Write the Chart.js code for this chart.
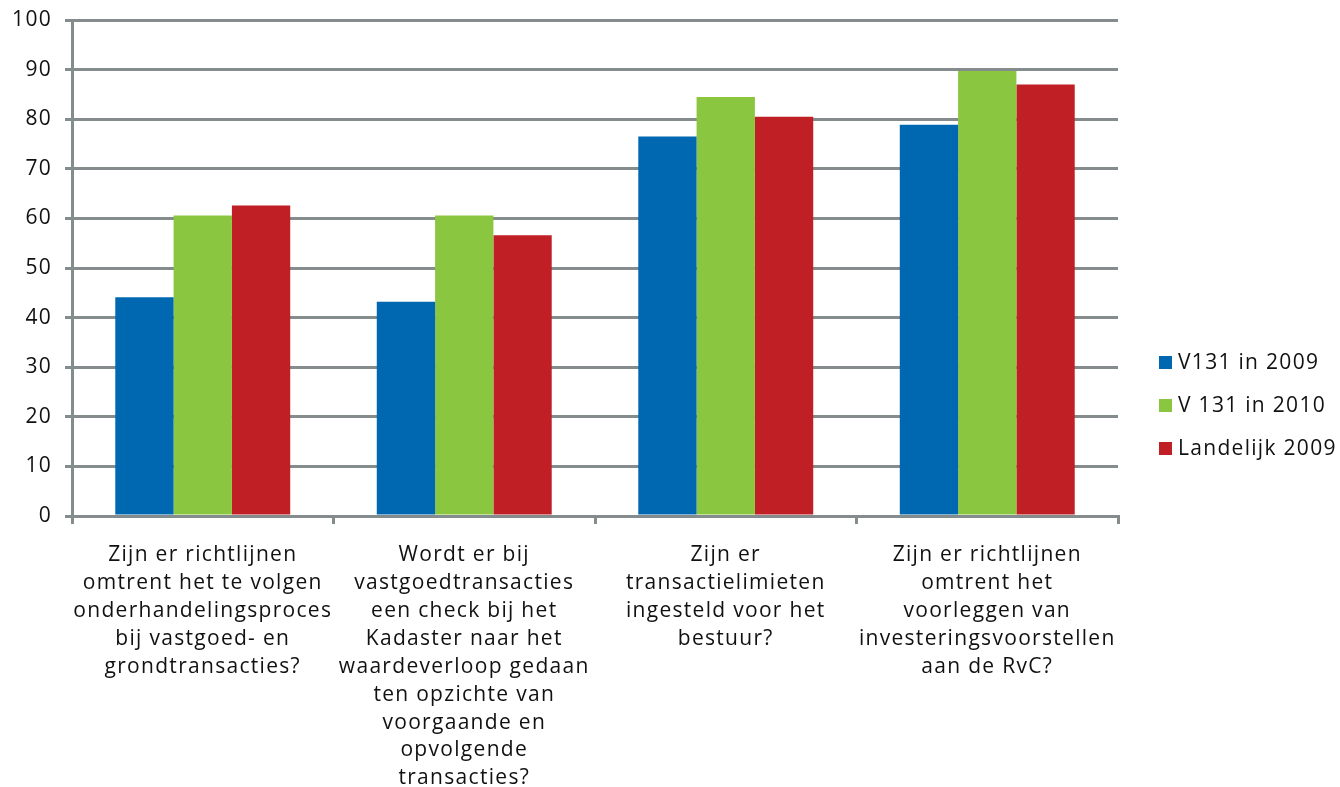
<!DOCTYPE html>
<html>
<head>
<meta charset="utf-8">
<script src="https://cdn.jsdelivr.net/npm/chart.js@4"></script>
<style>
  html, body { margin: 0; padding: 0; background: #fff; }
  #wrap { width: 1340px; height: 787px; }
</style>
</head>
<body>
<div id="wrap"><canvas id="chart" width="1340" height="787"></canvas></div>
<script>
// Categories (multi-line labels as in the original)
const categories = [
  ['Zijn er richtlijnen', 'omtrent het te volgen', 'onderhandelingsproces', 'bij vastgoed- en', 'grondtransacties?'],
  ['Wordt er bij', 'vastgoedtransacties', 'een check bij het', 'Kadaster naar het', 'waardeverloop gedaan', 'ten opzichte van', 'voorgaande en', 'opvolgende', 'transacties?'],
  ['Zijn er', 'transactielimieten', 'ingesteld voor het', 'bestuur?'],
  ['Zijn er richtlijnen', 'omtrent het', 'voorleggen van', 'investeringsvoorstellen', 'aan de RvC?']
];

const seriesNames = ['V131 in 2009', 'V 131 in 2010', 'Landelijk 2009'];
const v131In2009 = [44.1, 43.2, 76.5, 78.9];
const v131In2010 = [60.6, 60.6, 84.5, 89.7];
const landelijk2009 = [62.6, 56.6, 80.5, 87.0];

const yTicks = [0, 10, 20, 30, 40, 50, 60, 70, 80, 90, 100];

const colors = ['#0068b0', '#8bc640', '#c01f26'];
const gridColor = '#858c8e';
const fontFamily = "'Open Sans', 'DejaVu Sans', sans-serif";
const spacing = '1.3px';

// the original font is wider, so add a little letter spacing
const tracking = {
  id: 'tracking',
  beforeLayout(chart) { chart.ctx.letterSpacing = spacing; },
  beforeDraw(chart) { chart.ctx.letterSpacing = spacing; }
};

// Simple legend drawn at the right side, like the original
const sideLegend = {
  id: 'sideLegend',
  afterDraw(chart) {
    const ctx = chart.ctx;
    const startY = 363;
    const step = 43;
    ctx.save();
    ctx.font = `21px ${fontFamily}`;
    ctx.letterSpacing = spacing;
    ctx.textBaseline = 'middle';
    ctx.textAlign = 'left';
    chart.data.datasets.forEach((ds, i) => {
      const y = startY + i * step;
      ctx.fillStyle = ds.backgroundColor;
      ctx.fillRect(1159, y - 7, 13, 13);
      ctx.fillStyle = '#111';
      ctx.fillText(ds.label, 1178, y);
    });
    ctx.restore();
  }
};

const ctx = document.getElementById('chart').getContext('2d');
new Chart(ctx, {
  type: 'bar',
  data: {
    labels: categories,
    datasets: [
      { label: seriesNames[0], data: v131In2009, backgroundColor: colors[0] },
      { label: seriesNames[1], data: v131In2010, backgroundColor: colors[1] },
      { label: seriesNames[2], data: landelijk2009, backgroundColor: colors[2] }
    ]
  },
  options: {
    responsive: false,
    devicePixelRatio: 1,
    animation: false,
    datasets: {
      bar: { categoryPercentage: 0.669, barPercentage: 1.0, borderWidth: 0 }
    },
    layout: { padding: { top: 20, right: 222, left: 0, bottom: 0 } },
    scales: {
      y: {
        min: 0,
        max: 100,
        afterBuildTicks: scale => { scale.ticks = yTicks.map(v => ({ value: v })); },
        afterFit: scale => {
          scale.width = 72;
          scale.paddingTop = 0;
          scale.paddingBottom = 0;
        },
        border: { display: true, color: gridColor, width: 3 },
        grid: { color: gridColor, lineWidth: 3, tickLength: 7, drawTicks: true },
        ticks: {
          color: '#111',
          padding: 13,
          font: { family: fontFamily, size: 21 }
        }
      },
      x: {
        afterFit: scale => {
          scale.height = 271;
          scale.paddingLeft = 0;
          scale.paddingRight = 0;
        },
        border: { display: true, color: gridColor, width: 3 },
        grid: { display: true, drawOnChartArea: false, drawTicks: true, tickLength: 8, color: gridColor, lineWidth: 3, offset: true },
        ticks: {
          color: '#111',
          padding: 17,
          maxRotation: 0,
          autoSkip: false,
          font: { family: fontFamily, size: 21, lineHeight: 1.33 }
        }
      }
    },
    plugins: {
      legend: { display: false },
      tooltip: { enabled: false }
    }
  },
  plugins: [tracking, sideLegend]
});
</script>
</body>
</html>
